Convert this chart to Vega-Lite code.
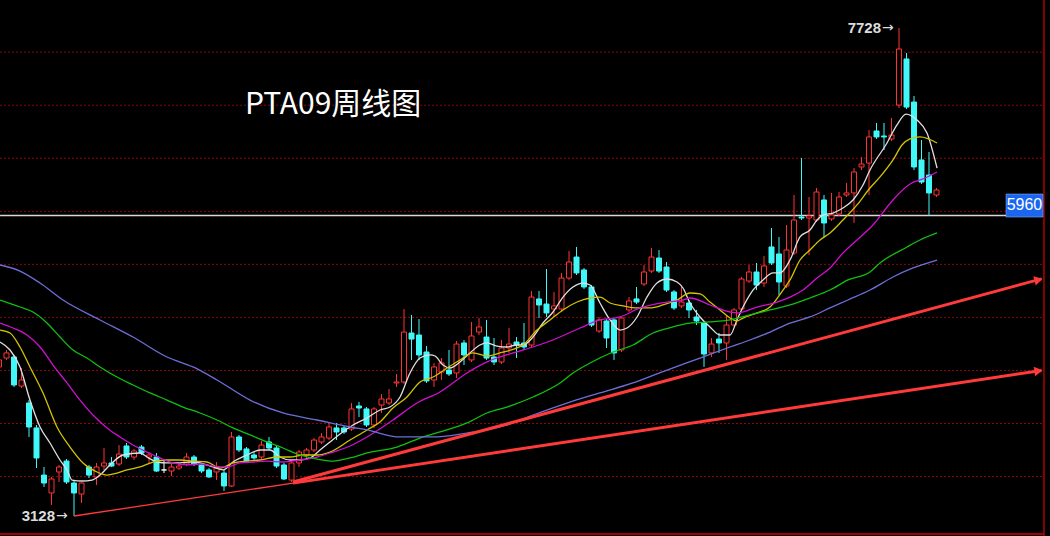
{
  "$schema": "https://vega.github.io/schema/vega-lite/v6.json",
  "width": 1050,
  "height": 536,
  "autosize": {"type": "none"},
  "padding": 0,
  "background": "#000000",
  "config": {"view": {"stroke": null}, "scale": {"continuousPadding": 0}},
  "datasets": {
    "candles": [
      {"i":0,"o":4533,"h":4636,"l":4485,"c":4599},
      {"i":1,"o":4617,"h":4693,"l":4599,"c":4665},
      {"i":2,"o":4627,"h":4646,"l":4344,"c":4363},
      {"i":3,"o":4353,"h":4523,"l":4335,"c":4410},
      {"i":4,"o":4193,"h":4221,"l":3873,"c":3967},
      {"i":5,"o":3958,"h":3986,"l":3580,"c":3675},
      {"i":6,"o":3514,"h":3590,"l":3401,"c":3439},
      {"i":7,"o":3345,"h":3496,"l":3232,"c":3477},
      {"i":8,"o":3543,"h":3609,"l":3449,"c":3590},
      {"i":9,"o":3646,"h":3665,"l":3430,"c":3449},
      {"i":10,"o":3439,"h":3458,"l":3128,"c":3345},
      {"i":11,"o":3335,"h":3445,"l":3251,"c":3439},
      {"i":12,"o":3590,"h":3609,"l":3486,"c":3514},
      {"i":13,"o":3496,"h":3628,"l":3420,"c":3590},
      {"i":14,"o":3599,"h":3769,"l":3562,"c":3628},
      {"i":15,"o":3628,"h":3684,"l":3590,"c":3599},
      {"i":16,"o":3618,"h":3797,"l":3599,"c":3712},
      {"i":17,"o":3788,"h":3816,"l":3665,"c":3684},
      {"i":18,"o":3684,"h":3760,"l":3656,"c":3741},
      {"i":19,"o":3778,"h":3797,"l":3703,"c":3722},
      {"i":20,"o":3684,"h":3731,"l":3628,"c":3703},
      {"i":21,"o":3684,"h":3722,"l":3543,"c":3552},
      {"i":22,"o":3562,"h":3656,"l":3533,"c":3562},
      {"i":23,"o":3552,"h":3618,"l":3505,"c":3590},
      {"i":24,"o":3580,"h":3628,"l":3562,"c":3599},
      {"i":25,"o":3618,"h":3722,"l":3599,"c":3684},
      {"i":26,"o":3684,"h":3703,"l":3599,"c":3618},
      {"i":27,"o":3609,"h":3628,"l":3533,"c":3552},
      {"i":28,"o":3562,"h":3580,"l":3486,"c":3496},
      {"i":29,"o":3543,"h":3637,"l":3467,"c":3580},
      {"i":30,"o":3533,"h":3562,"l":3364,"c":3411},
      {"i":31,"o":3411,"h":3920,"l":3401,"c":3873},
      {"i":32,"o":3873,"h":3892,"l":3731,"c":3750},
      {"i":33,"o":3760,"h":3778,"l":3637,"c":3646},
      {"i":34,"o":3703,"h":3731,"l":3656,"c":3675},
      {"i":35,"o":3684,"h":3835,"l":3665,"c":3797},
      {"i":36,"o":3826,"h":3873,"l":3750,"c":3769},
      {"i":37,"o":3769,"h":3788,"l":3580,"c":3599},
      {"i":38,"o":3609,"h":3628,"l":3467,"c":3477},
      {"i":39,"o":3467,"h":3656,"l":3449,"c":3628},
      {"i":40,"o":3628,"h":3750,"l":3590,"c":3731},
      {"i":41,"o":3703,"h":3769,"l":3675,"c":3750},
      {"i":42,"o":3750,"h":3863,"l":3731,"c":3844},
      {"i":43,"o":3826,"h":3910,"l":3807,"c":3873},
      {"i":44,"o":3863,"h":4005,"l":3844,"c":3967},
      {"i":45,"o":3958,"h":4005,"l":3844,"c":3920},
      {"i":46,"o":3958,"h":3976,"l":3901,"c":3920},
      {"i":47,"o":3948,"h":4193,"l":3929,"c":4137},
      {"i":48,"o":4165,"h":4203,"l":4061,"c":4146},
      {"i":49,"o":4137,"h":4155,"l":3967,"c":3986},
      {"i":50,"o":3986,"h":4155,"l":3958,"c":4137},
      {"i":51,"o":4174,"h":4278,"l":4099,"c":4231},
      {"i":52,"o":4193,"h":4325,"l":4174,"c":4231},
      {"i":53,"o":4382,"h":4467,"l":4344,"c":4391},
      {"i":54,"o":4391,"h":5079,"l":4372,"c":4862},
      {"i":55,"o":4853,"h":5023,"l":4599,"c":4796},
      {"i":56,"o":4834,"h":4985,"l":4599,"c":4646},
      {"i":57,"o":4674,"h":4730,"l":4382,"c":4401},
      {"i":58,"o":4410,"h":4570,"l":4344,"c":4533},
      {"i":59,"o":4485,"h":4617,"l":4410,"c":4570},
      {"i":60,"o":4504,"h":4693,"l":4448,"c":4467},
      {"i":61,"o":4476,"h":4778,"l":4429,"c":4749},
      {"i":62,"o":4759,"h":4787,"l":4551,"c":4646},
      {"i":63,"o":4599,"h":4957,"l":4580,"c":4825},
      {"i":64,"o":4862,"h":4994,"l":4834,"c":4910},
      {"i":65,"o":4815,"h":4976,"l":4599,"c":4617},
      {"i":66,"o":4627,"h":4806,"l":4551,"c":4580},
      {"i":67,"o":4580,"h":4787,"l":4561,"c":4712},
      {"i":68,"o":4712,"h":4900,"l":4665,"c":4749},
      {"i":69,"o":4768,"h":4815,"l":4617,"c":4740},
      {"i":70,"o":4759,"h":4947,"l":4693,"c":4721},
      {"i":71,"o":4740,"h":5249,"l":4721,"c":5192},
      {"i":72,"o":5174,"h":5249,"l":4994,"c":5117},
      {"i":73,"o":5126,"h":5456,"l":5004,"c":5042},
      {"i":74,"o":5079,"h":5240,"l":5004,"c":5108},
      {"i":75,"o":5079,"h":5419,"l":5060,"c":5371},
      {"i":76,"o":5371,"h":5626,"l":5353,"c":5522},
      {"i":77,"o":5569,"h":5664,"l":5400,"c":5419},
      {"i":78,"o":5447,"h":5466,"l":5268,"c":5287},
      {"i":79,"o":5287,"h":5305,"l":4910,"c":4928},
      {"i":80,"o":4872,"h":5004,"l":4853,"c":4976},
      {"i":81,"o":4966,"h":4985,"l":4712,"c":4806},
      {"i":82,"o":4976,"h":4994,"l":4599,"c":4665},
      {"i":83,"o":4693,"h":5013,"l":4674,"c":4994},
      {"i":84,"o":5070,"h":5192,"l":5051,"c":5155},
      {"i":85,"o":5174,"h":5287,"l":5126,"c":5145},
      {"i":86,"o":5315,"h":5494,"l":5296,"c":5428},
      {"i":87,"o":5437,"h":5654,"l":5419,"c":5569},
      {"i":88,"o":5560,"h":5635,"l":5419,"c":5437},
      {"i":89,"o":5475,"h":5522,"l":5240,"c":5258},
      {"i":90,"o":5240,"h":5258,"l":5070,"c":5089},
      {"i":91,"o":5108,"h":5305,"l":5089,"c":5145},
      {"i":92,"o":5136,"h":5164,"l":4994,"c":5070},
      {"i":93,"o":5004,"h":5070,"l":4928,"c":4966},
      {"i":94,"o":4947,"h":4966,"l":4533,"c":4655},
      {"i":95,"o":4665,"h":4806,"l":4627,"c":4749},
      {"i":96,"o":4796,"h":4853,"l":4665,"c":4759},
      {"i":97,"o":4759,"h":5023,"l":4599,"c":4928},
      {"i":98,"o":4928,"h":5089,"l":4910,"c":5070},
      {"i":99,"o":5079,"h":5381,"l":5060,"c":5362},
      {"i":100,"o":5343,"h":5494,"l":5324,"c":5428},
      {"i":101,"o":5428,"h":5513,"l":5258,"c":5305},
      {"i":102,"o":5324,"h":5579,"l":5287,"c":5485},
      {"i":103,"o":5664,"h":5843,"l":5494,"c":5513},
      {"i":104,"o":5598,"h":5758,"l":5211,"c":5334},
      {"i":105,"o":5296,"h":5871,"l":5277,"c":5635},
      {"i":106,"o":5607,"h":6154,"l":5588,"c":5918},
      {"i":107,"o":5946,"h":6503,"l":5918,"c":5937},
      {"i":108,"o":5937,"h":6135,"l":5588,"c":5956},
      {"i":109,"o":5918,"h":6220,"l":5899,"c":6182},
      {"i":110,"o":6107,"h":6154,"l":5758,"c":5890},
      {"i":111,"o":5928,"h":6173,"l":5909,"c":5965},
      {"i":112,"o":5975,"h":6182,"l":5956,"c":6135},
      {"i":113,"o":6154,"h":6267,"l":6135,"c":6173},
      {"i":114,"o":6173,"h":6408,"l":5890,"c":6371},
      {"i":115,"o":6418,"h":6512,"l":6389,"c":6446},
      {"i":116,"o":6455,"h":6767,"l":6154,"c":6701},
      {"i":117,"o":6757,"h":6833,"l":6682,"c":6701},
      {"i":118,"o":6710,"h":6833,"l":6578,"c":6701},
      {"i":119,"o":6682,"h":6880,"l":6663,"c":6719},
      {"i":120,"o":7002,"h":7728,"l":6974,"c":7530},
      {"i":121,"o":7436,"h":7492,"l":6964,"c":6983},
      {"i":122,"o":7030,"h":7087,"l":6389,"c":6418},
      {"i":123,"o":6484,"h":6672,"l":6258,"c":6276},
      {"i":124,"o":6342,"h":6559,"l":5960,"c":6173},
      {"i":125,"o":6154,"h":6220,"l":6135,"c":6201}
    ],
    "ma": [
      {"ma":"MA5","i":0.13,"v":4768},{"ma":"MA5","i":1.47,"v":4693},{"ma":"MA5","i":2.8,"v":4533},{"ma":"MA5","i":4.13,"v":4221},{"ma":"MA5","i":5.47,"v":3967},{"ma":"MA5","i":6.8,"v":3816},{"ma":"MA5","i":8.13,"v":3656},{"ma":"MA5","i":9.07,"v":3562},{"ma":"MA5","i":9.73,"v":3467},{"ma":"MA5","i":11.07,"v":3458},{"ma":"MA5","i":12.4,"v":3467},{"ma":"MA5","i":13.47,"v":3514},{"ma":"MA5","i":14.8,"v":3609},{"ma":"MA5","i":16.53,"v":3703},{"ma":"MA5","i":18.8,"v":3722},{"ma":"MA5","i":19.73,"v":3684},{"ma":"MA5","i":21.07,"v":3637},{"ma":"MA5","i":22.4,"v":3628},{"ma":"MA5","i":24.13,"v":3628},{"ma":"MA5","i":25.47,"v":3637},{"ma":"MA5","i":26.8,"v":3628},{"ma":"MA5","i":28.53,"v":3590},{"ma":"MA5","i":29.87,"v":3562},{"ma":"MA5","i":31.2,"v":3637},{"ma":"MA5","i":33.07,"v":3703},{"ma":"MA5","i":34.8,"v":3750},{"ma":"MA5","i":36.13,"v":3750},{"ma":"MA5","i":37.47,"v":3684},{"ma":"MA5","i":38.8,"v":3656},{"ma":"MA5","i":40.13,"v":3656},{"ma":"MA5","i":41.47,"v":3675},{"ma":"MA5","i":42.8,"v":3750},{"ma":"MA5","i":44.13,"v":3826},{"ma":"MA5","i":45.47,"v":3901},{"ma":"MA5","i":47.2,"v":3986},{"ma":"MA5","i":49.07,"v":4052},{"ma":"MA5","i":50.8,"v":4127},{"ma":"MA5","i":52.13,"v":4155},{"ma":"MA5","i":53.47,"v":4250},{"ma":"MA5","i":54.8,"v":4476},{"ma":"MA5","i":56.13,"v":4617},{"ma":"MA5","i":57.47,"v":4646},{"ma":"MA5","i":58.13,"v":4636},{"ma":"MA5","i":59.2,"v":4551},{"ma":"MA5","i":60.13,"v":4523},{"ma":"MA5","i":61.47,"v":4580},{"ma":"MA5","i":62.8,"v":4665},{"ma":"MA5","i":64.13,"v":4740},{"ma":"MA5","i":65.07,"v":4759},{"ma":"MA5","i":66.4,"v":4730},{"ma":"MA5","i":67.73,"v":4721},{"ma":"MA5","i":69.07,"v":4740},{"ma":"MA5","i":69.87,"v":4740},{"ma":"MA5","i":71.2,"v":4815},{"ma":"MA5","i":72.53,"v":4947},{"ma":"MA5","i":73.87,"v":5051},{"ma":"MA5","i":75.2,"v":5192},{"ma":"MA5","i":76.53,"v":5287},{"ma":"MA5","i":77.87,"v":5324},{"ma":"MA5","i":78.8,"v":5305},{"ma":"MA5","i":80.13,"v":5136},{"ma":"MA5","i":81.47,"v":4976},{"ma":"MA5","i":82.8,"v":4881},{"ma":"MA5","i":83.73,"v":4900},{"ma":"MA5","i":85.07,"v":5004},{"ma":"MA5","i":86.4,"v":5192},{"ma":"MA5","i":87.73,"v":5324},{"ma":"MA5","i":89.07,"v":5362},{"ma":"MA5","i":90.4,"v":5334},{"ma":"MA5","i":91.2,"v":5277},{"ma":"MA5","i":92.13,"v":5136},{"ma":"MA5","i":93.47,"v":5004},{"ma":"MA5","i":94.8,"v":4910},{"ma":"MA5","i":96.13,"v":4834},{"ma":"MA5","i":97.47,"v":4834},{"ma":"MA5","i":98.4,"v":4976},{"ma":"MA5","i":99.2,"v":5098},{"ma":"MA5","i":100.53,"v":5258},{"ma":"MA5","i":101.87,"v":5353},{"ma":"MA5","i":103.2,"v":5419},{"ma":"MA5","i":104.13,"v":5419},{"ma":"MA5","i":105.47,"v":5541},{"ma":"MA5","i":106.8,"v":5758},{"ma":"MA5","i":108.13,"v":5824},{"ma":"MA5","i":109.07,"v":5918},{"ma":"MA5","i":109.87,"v":5965},{"ma":"MA5","i":111.2,"v":5984},{"ma":"MA5","i":112.53,"v":6031},{"ma":"MA5","i":113.87,"v":6107},{"ma":"MA5","i":115.2,"v":6248},{"ma":"MA5","i":116.13,"v":6389},{"ma":"MA5","i":118.4,"v":6644},{"ma":"MA5","i":119.73,"v":6814},{"ma":"MA5","i":120.93,"v":6917},{"ma":"MA5","i":122.4,"v":6861},{"ma":"MA5","i":123.73,"v":6738},{"ma":"MA5","i":125.07,"v":6408},
      {"ma":"MA10","i":0.13,"v":4881},{"ma":"MA10","i":1.47,"v":4853},{"ma":"MA10","i":2.8,"v":4721},{"ma":"MA10","i":4.13,"v":4533},{"ma":"MA10","i":5.87,"v":4287},{"ma":"MA10","i":7.73,"v":3967},{"ma":"MA10","i":9.47,"v":3778},{"ma":"MA10","i":11.2,"v":3628},{"ma":"MA10","i":13.07,"v":3543},{"ma":"MA10","i":14.4,"v":3514},{"ma":"MA10","i":15.73,"v":3533},{"ma":"MA10","i":17.07,"v":3562},{"ma":"MA10","i":18.8,"v":3590},{"ma":"MA10","i":20.53,"v":3637},{"ma":"MA10","i":22.4,"v":3656},{"ma":"MA10","i":24.13,"v":3656},{"ma":"MA10","i":25.87,"v":3646},{"ma":"MA10","i":27.73,"v":3637},{"ma":"MA10","i":29.47,"v":3580},{"ma":"MA10","i":31.2,"v":3628},{"ma":"MA10","i":33.07,"v":3646},{"ma":"MA10","i":34.8,"v":3656},{"ma":"MA10","i":37.07,"v":3684},{"ma":"MA10","i":38.8,"v":3684},{"ma":"MA10","i":40.53,"v":3703},{"ma":"MA10","i":42.4,"v":3703},{"ma":"MA10","i":44.13,"v":3731},{"ma":"MA10","i":46.8,"v":3844},{"ma":"MA10","i":49.07,"v":3939},{"ma":"MA10","i":50.8,"v":4014},{"ma":"MA10","i":52.53,"v":4146},{"ma":"MA10","i":54.4,"v":4250},{"ma":"MA10","i":56.13,"v":4391},{"ma":"MA10","i":57.87,"v":4438},{"ma":"MA10","i":59.73,"v":4523},{"ma":"MA10","i":61.47,"v":4599},{"ma":"MA10","i":63.2,"v":4665},{"ma":"MA10","i":65.07,"v":4636},{"ma":"MA10","i":66.8,"v":4665},{"ma":"MA10","i":69.07,"v":4712},{"ma":"MA10","i":69.87,"v":4740},{"ma":"MA10","i":71.73,"v":4881},{"ma":"MA10","i":73.47,"v":4976},{"ma":"MA10","i":75.2,"v":5070},{"ma":"MA10","i":77.07,"v":5145},{"ma":"MA10","i":78.8,"v":5183},{"ma":"MA10","i":80.13,"v":5192},{"ma":"MA10","i":81.47,"v":5136},{"ma":"MA10","i":83.2,"v":5108},{"ma":"MA10","i":85.07,"v":5089},{"ma":"MA10","i":86.8,"v":5089},{"ma":"MA10","i":88.53,"v":5117},{"ma":"MA10","i":90.4,"v":5164},{"ma":"MA10","i":92.13,"v":5230},{"ma":"MA10","i":93.47,"v":5221},{"ma":"MA10","i":94.8,"v":5145},{"ma":"MA10","i":96.13,"v":5070},{"ma":"MA10","i":97.47,"v":4994},{"ma":"MA10","i":98.4,"v":4966},{"ma":"MA10","i":99.2,"v":4994},{"ma":"MA10","i":101.07,"v":5042},{"ma":"MA10","i":102.8,"v":5098},{"ma":"MA10","i":104.53,"v":5258},{"ma":"MA10","i":105.47,"v":5353},{"ma":"MA10","i":106.8,"v":5541},{"ma":"MA10","i":108.13,"v":5635},{"ma":"MA10","i":109.47,"v":5730},{"ma":"MA10","i":110.8,"v":5796},{"ma":"MA10","i":112.53,"v":5918},{"ma":"MA10","i":114.4,"v":6060},{"ma":"MA10","i":116.13,"v":6220},{"ma":"MA10","i":117.47,"v":6324},{"ma":"MA10","i":119.2,"v":6484},{"ma":"MA10","i":120.4,"v":6625},{"ma":"MA10","i":121.47,"v":6682},{"ma":"MA10","i":122.8,"v":6701},{"ma":"MA10","i":125.07,"v":6644},
      {"ma":"MA20","i":0.13,"v":4947},{"ma":"MA20","i":1.87,"v":4900},{"ma":"MA20","i":3.73,"v":4834},{"ma":"MA20","i":5.47,"v":4721},{"ma":"MA20","i":7.2,"v":4551},{"ma":"MA20","i":9.07,"v":4382},{"ma":"MA20","i":10.8,"v":4221},{"ma":"MA20","i":12.53,"v":4080},{"ma":"MA20","i":14.4,"v":3958},{"ma":"MA20","i":16.13,"v":3873},{"ma":"MA20","i":17.87,"v":3797},{"ma":"MA20","i":19.73,"v":3731},{"ma":"MA20","i":21.47,"v":3675},{"ma":"MA20","i":23.2,"v":3628},{"ma":"MA20","i":25.07,"v":3609},{"ma":"MA20","i":26.8,"v":3618},{"ma":"MA20","i":28.53,"v":3599},{"ma":"MA20","i":30.4,"v":3590},{"ma":"MA20","i":32.13,"v":3628},{"ma":"MA20","i":33.87,"v":3637},{"ma":"MA20","i":35.73,"v":3646},{"ma":"MA20","i":37.87,"v":3637},{"ma":"MA20","i":40.13,"v":3656},{"ma":"MA20","i":42.4,"v":3684},{"ma":"MA20","i":44.53,"v":3731},{"ma":"MA20","i":46.8,"v":3788},{"ma":"MA20","i":49.07,"v":3873},{"ma":"MA20","i":52.53,"v":4033},{"ma":"MA20","i":55.73,"v":4193},{"ma":"MA20","i":58.8,"v":4297},{"ma":"MA20","i":62.4,"v":4476},{"ma":"MA20","i":65.07,"v":4580},{"ma":"MA20","i":68.53,"v":4665},{"ma":"MA20","i":71.2,"v":4721},{"ma":"MA20","i":73.87,"v":4787},{"ma":"MA20","i":77.47,"v":4900},{"ma":"MA20","i":80.13,"v":4976},{"ma":"MA20","i":82.8,"v":5004},{"ma":"MA20","i":85.47,"v":5089},{"ma":"MA20","i":89.07,"v":5145},{"ma":"MA20","i":91.2,"v":5164},{"ma":"MA20","i":92.13,"v":5183},{"ma":"MA20","i":94.8,"v":5117},{"ma":"MA20","i":97.47,"v":5051},{"ma":"MA20","i":98.4,"v":5042},{"ma":"MA20","i":101.07,"v":5098},{"ma":"MA20","i":103.73,"v":5145},{"ma":"MA20","i":105.47,"v":5192},{"ma":"MA20","i":107.2,"v":5258},{"ma":"MA20","i":109.07,"v":5371},{"ma":"MA20","i":110.8,"v":5466},{"ma":"MA20","i":112.53,"v":5607},{"ma":"MA20","i":114.4,"v":5730},{"ma":"MA20","i":116.4,"v":5862},{"ma":"MA20","i":119.2,"v":6107},{"ma":"MA20","i":121.47,"v":6258},{"ma":"MA20","i":123.2,"v":6305},{"ma":"MA20","i":125.07,"v":6371},
      {"ma":"MA40","i":0.13,"v":5164},{"ma":"MA40","i":2.8,"v":5098},{"ma":"MA40","i":4.53,"v":5051},{"ma":"MA40","i":6.4,"v":4947},{"ma":"MA40","i":8.13,"v":4815},{"ma":"MA40","i":9.87,"v":4693},{"ma":"MA40","i":11.73,"v":4617},{"ma":"MA40","i":13.47,"v":4533},{"ma":"MA40","i":15.73,"v":4438},{"ma":"MA40","i":17.87,"v":4363},{"ma":"MA40","i":20.13,"v":4288},{"ma":"MA40","i":22.4,"v":4221},{"ma":"MA40","i":24.53,"v":4155},{"ma":"MA40","i":26.8,"v":4099},{"ma":"MA40","i":29.07,"v":4033},{"ma":"MA40","i":31.2,"v":3958},{"ma":"MA40","i":33.47,"v":3892},{"ma":"MA40","i":35.73,"v":3826},{"ma":"MA40","i":37.87,"v":3769},{"ma":"MA40","i":40.13,"v":3703},{"ma":"MA40","i":42.4,"v":3665},{"ma":"MA40","i":44.53,"v":3646},{"ma":"MA40","i":46.8,"v":3675},{"ma":"MA40","i":49.07,"v":3722},{"ma":"MA40","i":53.07,"v":3778},{"ma":"MA40","i":56.13,"v":3863},{"ma":"MA40","i":58.8,"v":3920},{"ma":"MA40","i":62.4,"v":4005},{"ma":"MA40","i":65.07,"v":4099},{"ma":"MA40","i":67.73,"v":4155},{"ma":"MA40","i":71.2,"v":4250},{"ma":"MA40","i":74.8,"v":4382},{"ma":"MA40","i":76.53,"v":4476},{"ma":"MA40","i":78.8,"v":4570},{"ma":"MA40","i":81.87,"v":4674},{"ma":"MA40","i":84.53,"v":4740},{"ma":"MA40","i":87.2,"v":4853},{"ma":"MA40","i":89.87,"v":4910},{"ma":"MA40","i":92.13,"v":4947},{"ma":"MA40","i":94.8,"v":4957},{"ma":"MA40","i":97.47,"v":4976},{"ma":"MA40","i":100.13,"v":5023},{"ma":"MA40","i":102.8,"v":5070},{"ma":"MA40","i":105.47,"v":5117},{"ma":"MA40","i":108.13,"v":5183},{"ma":"MA40","i":110.8,"v":5258},{"ma":"MA40","i":113.2,"v":5353},{"ma":"MA40","i":116.13,"v":5428},{"ma":"MA40","i":117.47,"v":5513},{"ma":"MA40","i":121.07,"v":5664},{"ma":"MA40","i":122.8,"v":5730},{"ma":"MA40","i":125.07,"v":5796},
      {"ma":"MA60","i":0.13,"v":5494},{"ma":"MA60","i":2.8,"v":5437},{"ma":"MA60","i":5.47,"v":5324},{"ma":"MA60","i":8.53,"v":5164},{"ma":"MA60","i":13.47,"v":4976},{"ma":"MA60","i":17.87,"v":4815},{"ma":"MA60","i":22.4,"v":4627},{"ma":"MA60","i":25.87,"v":4533},{"ma":"MA60","i":29.07,"v":4410},{"ma":"MA60","i":33.47,"v":4221},{"ma":"MA60","i":37.87,"v":4099},{"ma":"MA60","i":42.4,"v":4033},{"ma":"MA60","i":46.8,"v":3967},{"ma":"MA60","i":49.07,"v":3939},{"ma":"MA60","i":53.47,"v":3873},{"ma":"MA60","i":57.87,"v":3873},{"ma":"MA60","i":62.4,"v":3910},{"ma":"MA60","i":65.07,"v":3939},{"ma":"MA60","i":67.73,"v":3986},{"ma":"MA60","i":71.2,"v":4080},{"ma":"MA60","i":75.73,"v":4193},{"ma":"MA60","i":80.13,"v":4288},{"ma":"MA60","i":84.53,"v":4382},{"ma":"MA60","i":89.07,"v":4504},{"ma":"MA60","i":93.47,"v":4617},{"ma":"MA60","i":97.47,"v":4721},{"ma":"MA60","i":100.13,"v":4787},{"ma":"MA60","i":102.8,"v":4862},{"ma":"MA60","i":105.47,"v":4947},{"ma":"MA60","i":108.13,"v":5004},{"ma":"MA60","i":110.8,"v":5089},{"ma":"MA60","i":113.2,"v":5164},{"ma":"MA60","i":116.13,"v":5258},{"ma":"MA60","i":119.2,"v":5381},{"ma":"MA60","i":121.87,"v":5466},{"ma":"MA60","i":125.07,"v":5541}
    ],
    "trend": [
      {"seg":"A1","x1":10,"y1":3128,"x2":39.2,"y2":3438},
      {"seg":"A2","x1":39.2,"y1":3438,"x2":139.0,"y2":4500},
      {"seg":"B","x1":39.2,"y1":3449,"x2":139.0,"y2":5363}
    ],
    "arrows": [
      {"seg":"A","i":138.6,"v":4496},
      {"seg":"B","i":138.6,"v":5355}
    ],
    "grid": [
      {"v":3500},{"v":4000},{"v":4500},{"v":5000},{"v":5500},{"v":6000},{"v":6500},{"v":7000},{"v":7500}
    ],
    "labels": [
      {"i":117.6,"v":7728,"t":"7728","a":"→"},
      {"i":7.47,"v":3128,"t":"3128","a":"→"}
    ]
  },
  "layer": [
    {
      "data": {"name": "grid"},
      "mark": {"type": "rule", "color": "#8c0a0a", "strokeWidth": 1, "strokeDash": [2, 2]},
      "encoding": {
        "y": {"field": "v", "type": "quantitative", "scale": {"domain": [2939.5, 7991.9], "nice": false, "zero": false, "padding": 0}, "axis": null},
        "x": {"datum": 0.14, "type": "quantitative", "scale": {"domain": [0.1333, 140.1333], "nice": false, "zero": false, "padding": 0}, "axis": null},
        "x2": {"datum": 139.3}
      }
    },
    {
      "data": {"values": [{"v": 2958}]},
      "mark": {"type": "rule", "color": "#a00000", "strokeWidth": 2},
      "encoding": {
        "y": {"field": "v", "type": "quantitative"},
        "x": {"datum": 0.14, "type": "quantitative"},
        "x2": {"datum": 139.3}
      }
    },
    {
      "data": {"values": [{"v": 5960, "x1": 0.14, "x2": 134.27}]},
      "mark": {"type": "rule", "color": "#d8d8d8", "strokeWidth": 1.5},
      "encoding": {
        "y": {"field": "v", "type": "quantitative"},
        "x": {"field": "x1", "type": "quantitative"},
        "x2": {"field": "x2"}
      }
    },
    {
      "data": {"name": "candles"},
      "mark": {"type": "rule", "strokeWidth": 1, "clip": true},
      "encoding": {
        "x": {"field": "i", "type": "quantitative"},
        "y": {"field": "h", "type": "quantitative"},
        "y2": {"field": "l"},
        "color": {
          "condition": [
            {"test": "datum.c > datum.o", "value": "#ff3232"},
            {"test": "datum.c < datum.o", "value": "#40f8f8"}
          ],
          "value": "#ffffff"
        }
      }
    },
    {
      "data": {"name": "candles"},
      "mark": {"type": "bar", "size": 5, "strokeWidth": 1, "clip": true, "fillOpacity": 1},
      "encoding": {
        "x": {"field": "i", "type": "quantitative", "scale": {"padding": 0}},
        "y": {"field": "o", "type": "quantitative"},
        "y2": {"field": "c"},
        "fill": {
          "condition": {"test": "datum.c < datum.o", "value": "#40f8f8"},
          "value": "#000000"
        },
        "stroke": {
          "condition": [
            {"test": "datum.c > datum.o", "value": "#ff3232"},
            {"test": "datum.c < datum.o", "value": "#40f8f8"}
          ],
          "value": "#ffffff"
        }
      }
    },
    {
      "data": {"name": "ma"},
      "mark": {"type": "line", "strokeWidth": 1.3, "clip": true, "interpolate": "monotone"},
      "encoding": {
        "x": {"field": "i", "type": "quantitative"},
        "y": {"field": "v", "type": "quantitative"},
        "color": {
          "field": "ma", "type": "nominal", "legend": null,
          "scale": {"domain": ["MA5", "MA10", "MA20", "MA40", "MA60"], "range": ["#e0e0e0", "#d2c400", "#d010d0", "#10c010", "#6e6ed8"]}
        }
      }
    },
    {
      "data": {"name": "trend"},
      "transform": [{"filter": "datum.seg == 'A1'"}],
      "mark": {"type": "rule", "color": "#ff3a3a", "strokeWidth": 1.3},
      "encoding": {
        "x": {"field": "x1", "type": "quantitative"},
        "y": {"field": "y1", "type": "quantitative"},
        "x2": {"field": "x2"},
        "y2": {"field": "y2"}
      }
    },
    {
      "data": {"name": "trend"},
      "transform": [{"filter": "datum.seg != 'A1'"}],
      "mark": {"type": "rule", "color": "#ff3a3a", "strokeWidth": 3},
      "encoding": {
        "x": {"field": "x1", "type": "quantitative"},
        "y": {"field": "y1", "type": "quantitative"},
        "x2": {"field": "x2"},
        "y2": {"field": "y2"}
      }
    },
    {
      "data": {"name": "arrows"},
      "mark": {"type": "point", "shape": "triangle-right", "filled": true, "color": "#ff3a3a", "size": 90, "opacity": 1},
      "encoding": {
        "x": {"field": "i", "type": "quantitative"},
        "y": {"field": "v", "type": "quantitative"},
        "angle": {"condition": {"test": "datum.seg == 'A'", "value": -8.5}, "value": -15}
      }
    },
    {
      "data": {"values": [{"i": 139.33}]},
      "mark": {"type": "rule", "color": "#b00000", "strokeWidth": 1.5},
      "encoding": {
        "x": {"field": "i", "type": "quantitative"}
      }
    },
    {
      "data": {"values": [{"x1": 134.27, "x2": 139.2, "y1": 6163, "y2": 5946}]},
      "mark": {"type": "rect", "color": "#1a66f0", "stroke": "#9ab8ff", "strokeWidth": 0.5},
      "encoding": {
        "x": {"field": "x1", "type": "quantitative"},
        "x2": {"field": "x2"},
        "y": {"field": "y1", "type": "quantitative"},
        "y2": {"field": "y2"}
      }
    },
    {
      "data": {"values": [{"i": 136.73, "v": 6055, "t": "5960"}]},
      "mark": {"type": "text", "color": "#ffffff", "font": "Liberation Sans", "fontSize": 16, "align": "center", "baseline": "middle"},
      "encoding": {
        "x": {"field": "i", "type": "quantitative"},
        "y": {"field": "v", "type": "quantitative"},
        "text": {"field": "t"}
      }
    },
    {
      "data": {"name": "labels"},
      "mark": {"type": "text", "color": "#dcdcdc", "font": "Liberation Sans", "fontSize": 15, "fontWeight": "bold", "align": "right", "baseline": "middle"},
      "encoding": {
        "x": {"field": "i", "type": "quantitative"},
        "y": {"field": "v", "type": "quantitative"},
        "text": {"field": "t"}
      }
    },
    {
      "data": {"name": "labels"},
      "mark": {"type": "text", "color": "#dcdcdc", "font": "DejaVu Sans", "fontSize": 14, "align": "left", "baseline": "middle", "dx": 1},
      "encoding": {
        "x": {"field": "i", "type": "quantitative"},
        "y": {"field": "v", "type": "quantitative"},
        "text": {"field": "a"}
      }
    },
    {
      "data": {"values": [{"i": 32.8, "v": 7002, "t": "PTA09周线图"}]},
      "mark": {"type": "text", "color": "#ffffff", "font": "Noto Sans CJK SC", "fontSize": 30, "align": "left", "baseline": "middle"},
      "encoding": {
        "x": {"field": "i", "type": "quantitative"},
        "y": {"field": "v", "type": "quantitative"},
        "text": {"field": "t"}
      }
    }
  ]
}
